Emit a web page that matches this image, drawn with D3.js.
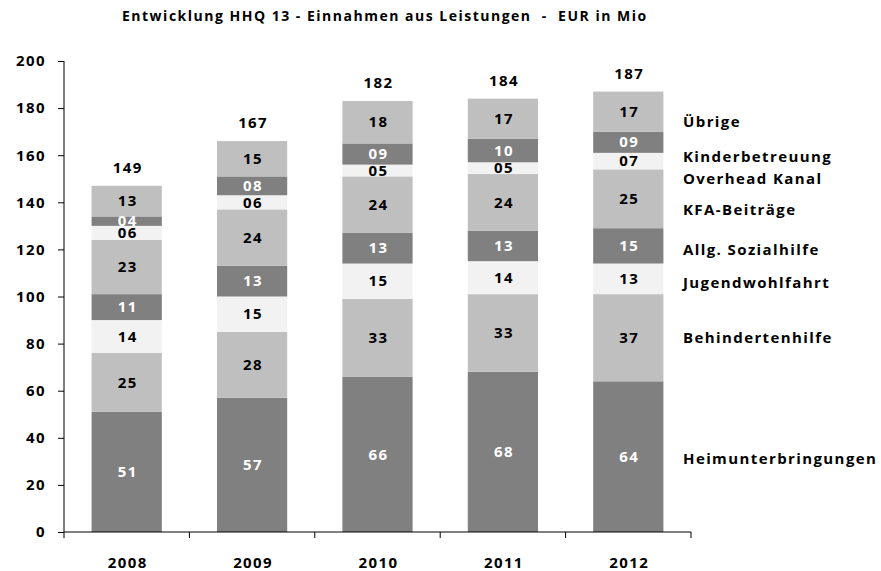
<!DOCTYPE html>
<html>
<head>
<meta charset="utf-8">
<script src="https://cdn.jsdelivr.net/npm/d3@7"></script>
<style>
  body { margin: 0; background: #fff; }
  text { font-family: 'Open Sans', 'Liberation Sans', sans-serif; font-weight: bold; letter-spacing: 1.4px; }
</style>
</head>
<body>
<div id="chart"></div>
<script>
// Data
const years = ['2008', '2009', '2010', '2011', '2012']
const seriesNames = [
  'Heimunterbringungen', 'Behindertenhilfe', 'Jugendwohlfahrt', 'Allg. Sozialhilfe',
  'KFA-Beiträge', 'Overhead Kanal', 'Kinderbetreuung', 'Übrige'
]
const heimunterbringungen = [51, 57, 66, 68, 64]
const behindertenhilfe = [25, 28, 33, 33, 37]
const jugendwohlfahrt = [14, 15, 15, 14, 13]
const sozialhilfe = [11, 13, 13, 13, 15]
const kfaBeitraege = [23, 24, 24, 24, 25]
const overheadKanal = [6, 6, 5, 5, 7]
const kinderbetreuung = [4, 8, 9, 10, 9]
const uebrige = [13, 15, 18, 17, 17]
const totals = [149, 167, 182, 184, 187]
const yTicks = [0, 20, 40, 60, 80, 100, 120, 140, 160, 180, 200]

// Layout
const margin = { top: 61, left: 64, right: 190, bottom: 39 }
const width = 881 - margin.left - margin.right
const height = 571 - margin.top - margin.bottom
const colors = ['#808080', '#bfbfbf', '#f2f2f2', '#808080', '#bfbfbf', '#f2f2f2', '#808080', '#bfbfbf']
// where the series names sit on the right, in axis units
const nameAt = [31, 82.4, 105.7, 119.7, 136.7, 149.9, 159.2, 174.1]

const seriesValues = [heimunterbringungen, behindertenhilfe, jugendwohlfahrt, sozialhilfe,
  kfaBeitraege, overheadKanal, kinderbetreuung, uebrige]

const rows = years.map((y, i) => {
  const row = { year: y }
  seriesNames.forEach((s, j) => { row[s] = seriesValues[j][i] })
  return row
})

const stacked = d3.stack().keys(seriesNames)(rows)

const svg = d3.select('#chart')
  .append('svg')
  .attr('width', 881)
  .attr('height', 571)

svg.append('text')
  .attr('x', 122)
  .attr('y', 21)
  .attr('font-size', 14)
  .attr('fill', '#000')
  .style('white-space', 'pre')
  .style('letter-spacing', '1.5px')
  .text('Entwicklung HHQ 13 - Einnahmen aus Leistungen  -  EUR in Mio')

const g = svg.append('g')
  .attr('transform', 'translate(' + margin.left + ',' + margin.top + ')')

const xPositionScale = d3.scaleBand().domain(years).range([0, width]).paddingInner(0.44).paddingOuter(0.22)
const yPositionScale = d3.scaleLinear().domain([0, 200]).range([height, 0])

// Bars
const layers = g.selectAll('.layer')
  .data(stacked)
  .enter()
  .append('g')
  .attr('class', 'layer')
  .attr('fill', (d, i) => colors[i])

layers.selectAll('rect')
  .data(d => d)
  .enter()
  .append('rect')
  .attr('x', d => xPositionScale(d.data.year))
  .attr('width', xPositionScale.bandwidth())
  .attr('y', d => yPositionScale(d[1]))
  .attr('height', d => yPositionScale(d[0]) - yPositionScale(d[1]))

// Segment labels
const fmt = d3.format('02d')
stacked.forEach((layer, i) => {
  g.selectAll('.lbl-' + i)
    .data(layer)
    .enter()
    .append('text')
    .attr('class', 'lbl-' + i)
    .attr('x', d => xPositionScale(d.data.year) + xPositionScale.bandwidth() / 2 + 1)
    .attr('y', d => yPositionScale((d[0] + d[1]) / 2))
    .attr('dy', '0.35em')
    .attr('text-anchor', 'middle')
    .attr('font-size', 15)
    .attr('fill', colors[i] === '#808080' ? '#fff' : '#000')
    .text(d => fmt(d[1] - d[0]))
})

// Totals
g.selectAll('.total')
  .data(years)
  .enter()
  .append('text')
  .attr('x', d => xPositionScale(d) + xPositionScale.bandwidth() / 2 + 1)
  .attr('y', (d, i) => yPositionScale(d3.sum(seriesValues, s => s[i])) - 13)
  .attr('text-anchor', 'middle')
  .attr('font-size', 15)
  .attr('fill', '#000')
  .text((d, i) => totals[i])

// Series names on the right
g.selectAll('.series-name')
  .data(seriesNames)
  .enter()
  .append('text')
  .attr('x', width - 8)
  .attr('y', (d, i) => yPositionScale(nameAt[i]))
  .attr('dy', '0.35em')
  .attr('font-size', 15)
  .attr('fill', '#000')
  .text(d => d)

// Axes
const yAxis = d3.axisLeft(yPositionScale).tickValues(yTicks).tickSize(6).tickPadding(12)
g.append('g')
  .attr('class', 'y-axis')
  .call(yAxis)
  .call(a => a.select('.domain').attr('d', 'M0,0V' + height).attr('stroke', '#000'))
  .call(a => a.selectAll('text').attr('font-size', 15).attr('fill', '#000'))

const xAxis = g.append('g')
  .attr('class', 'x-axis')
  .attr('transform', 'translate(0,' + height + ')')

xAxis.append('line')
  .attr('x1', 0)
  .attr('x2', width)
  .attr('stroke', '#000')

const step = xPositionScale.step()
xAxis.selectAll('.tick-mark')
  .data(d3.range(years.length + 1))
  .enter()
  .append('line')
  .attr('x1', d => d * step)
  .attr('x2', d => d * step)
  .attr('y1', 0)
  .attr('y2', 6)
  .attr('stroke', '#000')

xAxis.selectAll('.year')
  .data(years)
  .enter()
  .append('text')
  .attr('x', d => xPositionScale(d) + xPositionScale.bandwidth() / 2 + 1)
  .attr('y', 36)
  .attr('text-anchor', 'middle')
  .attr('font-size', 15)
  .attr('fill', '#000')
  .text(d => d)

svg.selectAll('.y-axis text').attr('font-family', null)
</script>
</body>
</html>
